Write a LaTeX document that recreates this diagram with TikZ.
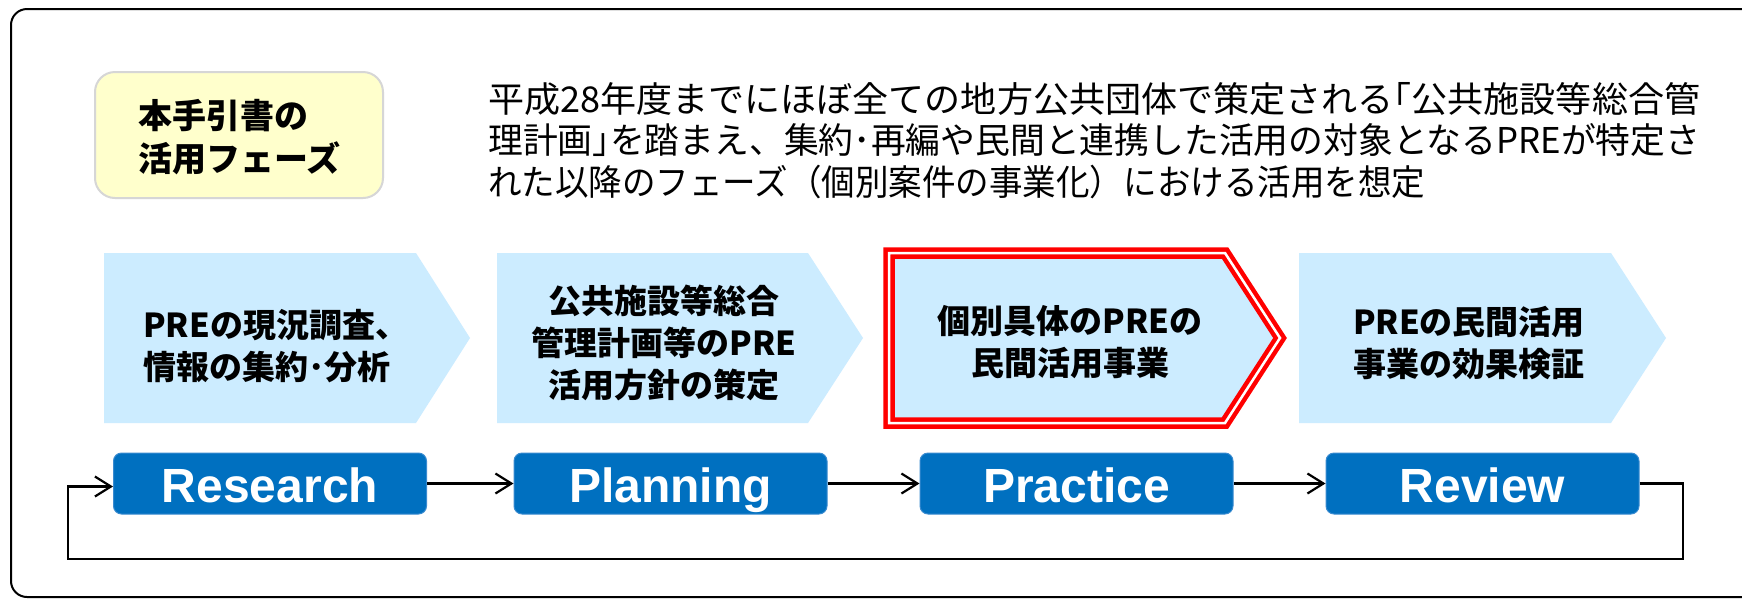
\documentclass[tikz,border=0pt]{standalone}
\usepackage{graphicx}
\usepackage{fontspec}
\setmainfont{Liberation Sans}
\newfontfamily\jp{Noto Sans CJK JP}
\usetikzlibrary{arrows.meta}
\definecolor{chev}{HTML}{CCECFF}
\definecolor{phase}{HTML}{0070C0}
\definecolor{phaseedge}{HTML}{3A8BD0}
\definecolor{note}{HTML}{FFFFCC}
\definecolor{noteedge}{HTML}{D6D6D6}
\definecolor{hl}{HTML}{FF0000}
\begin{document}
\begin{tikzpicture}[x=1pt,y=-1pt,
  chevfill/.style={fill=chev},
  chevtext/.style={font=\jp\bfseries\fontsize{33}{42}\selectfont, align=center, inner sep=0pt},
  desctext/.style={anchor=base west, inner sep=0pt, font=\jp\fontsize{35.5}{42}\selectfont},
  phasebox/.style={fill=phase, draw=phaseedge, line width=1pt, rounded corners=8pt,
    minimum width=313pt, minimum height=61pt, text=white, text height=38pt, text depth=0pt,
    font=\bfseries\fontsize{48}{48}\selectfont, inner sep=0pt},
  link/.style={draw=black, line width=2.2pt, -{Straight Barb[length=16pt,width=20pt]}},
]
\clip (0,0) rectangle (1742,598);
\fill[white] (0,0) rectangle (1742,598);
% outer frame
\draw[line width=2pt, rounded corners=16pt] (11,9) rectangle (1790,597);
% note box
\node[draw=noteedge, line width=2pt, fill=note, rounded corners=20pt,
  minimum width=288pt, minimum height=126pt, inner sep=0pt] (note) at (239,135) {};
\node[anchor=west, inner sep=0pt, align=left, font=\jp\bfseries\fontsize{34}{43}\selectfont]
  (notetxt) at (138,137.5) {本手引書の\\活用フェーズ};
% description
\node[desctext] (d1) at (488,112.5) {\resizebox{1212pt}{\height}{平成28年度までにほぼ全ての地方公共団体で策定される｢公共施設等総合管}};
\node[desctext] (d2) at (488,153.5) {\resizebox{1212pt}{\height}{理計画｣を踏まえ、集約･再編や民間と連携した活用の対象となるPREが特定さ}};
\node[desctext] (d3) at (488,195) {\resizebox{937pt}{\height}{れた以降のフェーズ（個別案件の事業化）における活用を想定}};
% chevrons
\path[chevfill] (104,253) -- (416,253) -- (470,338) -- (416,423) -- (104,423) -- cycle;
\path[chevfill] (497,253) -- (808,253) -- (863,338) -- (808,423) -- (497,423) -- cycle;
\path[chevfill, draw=hl, line width=4.5pt, double=white, double distance=2.5pt]
  (889,253) -- (1225,253) -- (1280,338) -- (1225,423) -- (889,423) -- cycle;
\path[chevfill] (1299,253) -- (1611,253) -- (1666,338) -- (1611,423) -- (1299,423) -- cycle;
\node[chevtext, align=left, anchor=west] (t1) at (143,346) {PREの現況調査、\\情報の集約･分析};
\node[chevtext] (t2) at (664,343) {公共施設等総合\\管理計画等のPRE\\活用方針の策定};
\node[chevtext] (t3) at (1070,342) {個別具体のPREの\\民間活用事業};
\node[chevtext] (t4) at (1469,343) {PREの民間活用\\事業の効果検証};
% phase boxes
\node[phasebox] (res) at (270,483.5) {Research};
\node[phasebox] (pla) at (670.5,483.5) {Planning};
\node[phasebox] (pra) at (1076.5,483.5) {Practice};
\node[phasebox] (rev) at (1482.5,483.5) {Review};
% connectors
\draw[link] (res.east) -- (pla.west);
\draw[link] (pla.east) -- (pra.west);
\draw[link] (pra.east) -- (rev.west);
\coordinate (loopR) at (1683,559);
\coordinate (loopL) at (68,559);
\draw[link] (rev.east) -| (loopR) -- (loopL) |- ([yshift=-3pt]res.west);
\end{tikzpicture}
\end{document}
